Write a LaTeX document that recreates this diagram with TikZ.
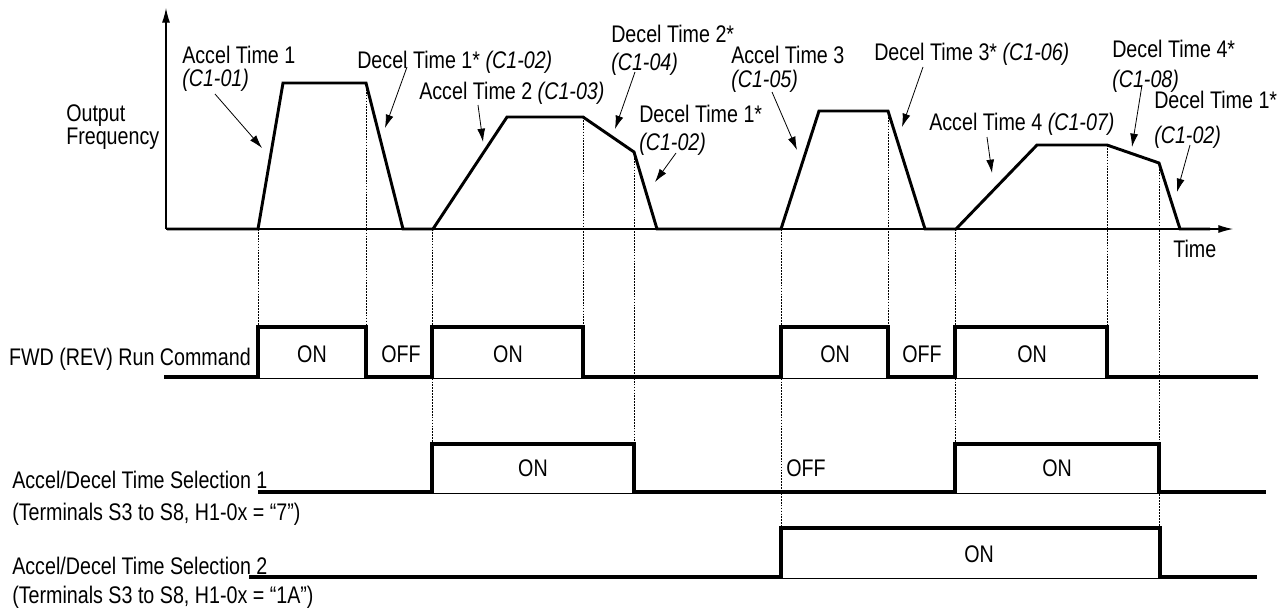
\documentclass[tikz,border=0pt]{standalone}
\usepackage{fontspec}
\setmainfont{Liberation Sans}[FakeStretch=0.82]
\usetikzlibrary{arrows.meta}
\tikzset{
  trace/.style={line width=2.2pt, line join=miter},
  signal/.style={line width=2.6pt, line join=miter},
  baseline/.style={line width=0.7pt},
  guide/.style={line width=0.7pt, dash pattern=on 1.3pt off 0.9pt},
  callout/.style={line width=0.6pt, -{Latex[length=10pt,width=6pt]}},
  axis/.style={line width=0.8pt, -{Latex[length=11pt,width=6pt]}},
  lbl/.style={anchor=base west, inner sep=0pt},
  state/.style={anchor=base, inner sep=0pt}
}
\begin{document}
\begin{tikzpicture}[x=0.75pt,y=0.75pt,yscale=-1,xscale=1,
  every node/.style={font=\fontsize{18}{21}\selectfont}]
\useasboundingbox (0,0) rectangle (1278,611);

%Axes
\draw [axis] (166,229) -- (166,8) ;
\draw [axis] (166,229) -- (1233,229) ;

%Output frequency
\draw [trace] (167,229) -- (258,229) -- (283,83) -- (366,83) -- (403,229) -- (433,229)
  -- (507,117) -- (583,117) -- (634,152) -- (657,229) -- (781,229) -- (819,111)
  -- (888,111) -- (925,229) -- (956,229) -- (1037,145) -- (1107,145) -- (1159,163)
  -- (1180,229) -- (1210,229) ;

%Guide lines
\foreach \x/\ya/\yb in {258/229/327, 366/83/327, 432/229/444, 583/117/327, 634/152/444,
  781/229/528, 888/111/327, 955/229/444, 1107/145/327, 1159/163/528}
  \draw [guide] (\x,\ya) -- (\x,\yb) ;

%FWD (REV) Run Command
\draw [baseline] (164,378) -- (1258,378) ;
\draw [signal] (164,377) -- (258,377) -- (258,327) -- (366,327) -- (366,377) -- (432,377)
  -- (432,327) -- (583,327) -- (583,377) -- (781,377) -- (781,327) -- (888,327)
  -- (888,377) -- (955,377) -- (955,327) -- (1107,327) -- (1107,377) -- (1258,377) ;
%Accel/Decel Time Selection 1
\draw [baseline] (258,493) -- (1266,493) ;
\draw [signal] (258,492) -- (432,492) -- (432,444) -- (634,444) -- (634,492) -- (955,492)
  -- (955,444) -- (1159,444) -- (1159,492) -- (1266,492) ;
%Accel/Decel Time Selection 2
\draw [baseline] (249,578) -- (1257,578) ;
\draw [signal] (249,577) -- (781,577) -- (781,528) -- (1160,528) -- (1160,577) -- (1257,577) ;

% Text Node
\node [lbl] (outlbl) at (66,121) {Output};
\node [lbl] (freqlbl) at (66,144) {Frequency};
\node [lbl] (timelbl) at (1173,257) {Time};
\node [anchor=base east, inner sep=0pt] (runlbl) at (251,365) {FWD (REV) Run Command};
\node [lbl] (sel1lbl) at (12,488) {Accel/Decel Time Selection 1};
\node [lbl] (sel1sub) at (12,520) {(Terminals S3 to S8, H1-0x = “7”)};
\node [lbl] (sel2lbl) at (12,574) {Accel/Decel Time Selection 2};
\node [lbl] (sel2sub) at (12,603) {(Terminals S3 to S8, H1-0x = “1A”)};

% States
\node [state] (run1) at (312,362) {ON};
\node [state] (run2) at (401,362) {OFF};
\node [state] (run3) at (508,362) {ON};
\node [state] (run4) at (835,362) {ON};
\node [state] (run5) at (922,362) {OFF};
\node [state] (run6) at (1032,362) {ON};
\node [state] (sela1) at (533,476) {ON};
\node [lbl] (sela2) at (786,476) {OFF};
\node [state] (sela3) at (1057,476) {ON};
\node [state] (selb1) at (979,562) {ON};

% Callouts
\node [lbl] (acc1) at (182,63) {Accel Time 1};
\node [lbl] (acc1p) at (182,86) {\textit{(C1-01)}};
\node [lbl] (dec1) at (357,68) {Decel Time 1* \textit{(C1-02)}};
\node [lbl] (acc2) at (419,99) {Accel Time 2 \textit{(C1-03)}};
\node [lbl] (dec2) at (611,42) {Decel Time 2*};
\node [lbl] (dec2p) at (611,70) {\textit{(C1-04)}};
\node [lbl] (dec1b) at (639,122) {Decel Time 1*};
\node [lbl] (dec1bp) at (639,150) {\textit{(C1-02)}};
\node [lbl] (acc3) at (731,63) {Accel Time 3};
\node [lbl] (acc3p) at (731,87) {\textit{(C1-05)}};
\node [lbl] (dec3) at (874,60) {Decel Time 3* \textit{(C1-06)}};
\node [lbl] (acc4) at (929,130) {Accel Time 4 \textit{(C1-07)}};
\node [lbl] (dec4) at (1112,57) {Decel Time 4*};
\node [lbl] (dec4p) at (1112,87) {\textit{(C1-08)}};
\node [lbl] (dec1c) at (1154,108) {Decel Time 1*};
\node [lbl] (dec1cp) at (1154,143) {\textit{(C1-02)}};

\foreach \n/\xa/\ya/\xb/\yb in {acc1/215/94/262/148, dec1/407/67/385/128, acc2/478/105/483/142,
  dec2/635/72/615/129, dec1b/676/153/655/182, acc3/772/92/797/150, dec3/923/67/902/127,
  acc4/987/137/992/173, dec4/1142/85/1132/147, dec1c/1190/145/1177/192} {
  \coordinate (\n-t) at (\xa,\ya) ;
  \coordinate (\n-h) at (\xb,\yb) ;
  \draw [callout] (\n-t) -- (\n-h) ;
}
\end{tikzpicture}
\end{document}
